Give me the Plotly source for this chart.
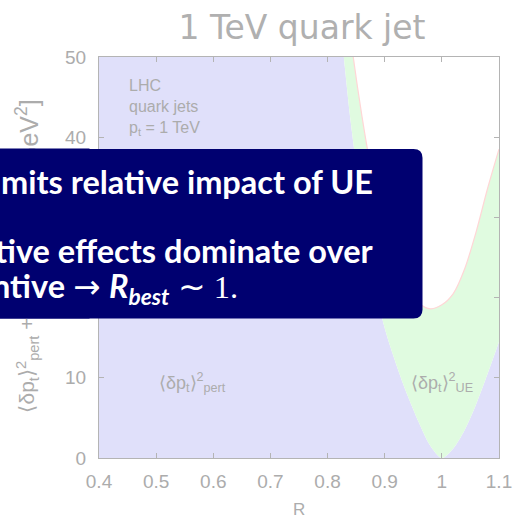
import plotly.graph_objects as go

# Jet radius R and the two contributions to the squared pt shift [GeV^2]
R = [0.40, 0.50, 0.60, 0.70, 0.75, 0.80, 0.82, 0.84, 0.86, 0.88, 0.90,
     0.92, 0.94, 0.96, 0.98, 1.00, 1.02, 1.04, 1.06, 1.08, 1.10]
pert = [1100, 650, 360, 175, 115, 70, 56, 42.2, 31.6, 22.8, 16.2,
        11.7, 7.8, 4.4, 1.5, 0.0, 1.2, 3.5, 6.7, 10.5, 14.5]
total = [1110, 660, 368, 182, 123, 79, 66, 52.7, 42.7, 34.6, 28.6,
         24.3, 21.2, 19.3, 18.6, 19.1, 20.5, 23.6, 28.2, 33.6, 38.5]

x_ticks = [0.4, 0.5, 0.6, 0.7, 0.8, 0.9, 1.0, 1.1]
x_tick_text = ["0.4", "0.5", "0.6", "0.7", "0.8", "0.9", "1", "1.1"]
y_ticks = [0, 10, 20, 30, 40, 50]

GREY = "#acacac"
NAVY = "#000070"
W, H = 517, 519
ML, MR, MT, MB = 99, 18, 57, 61
PW, PH = W - ML - MR, H - MT - MB


def px_x(px):
    return (px - ML) / PW


def px_y(py):
    return (H - MB - py) / PH


fig = go.Figure()
fig.add_trace(go.Scatter(
    x=R, y=pert, mode="lines", line=dict(width=0, shape="spline", smoothing=0.8),
    fill="tozeroy", fillcolor="#e0e0fa", hoverinfo="skip", showlegend=False))
fig.add_trace(go.Scatter(
    x=R, y=total, mode="lines",
    line=dict(width=1.2, color="#ffd6d6", shape="spline", smoothing=0.8),
    fill="tonexty", fillcolor="#e0fbe0", hoverinfo="skip", showlegend=False))

axis_common = dict(
    showline=True, linecolor="#b4b4b4", linewidth=1, mirror="ticks",
    ticks="inside", ticklen=5, tickcolor="#b4b4b4", showgrid=False,
    zeroline=False, tickfont=dict(family="Liberation Sans", size=19, color=GREY),
)
fig.update_xaxes(range=[0.4, 1.1], tickvals=x_ticks, ticktext=x_tick_text,
                 ticklabelstandoff=6, **axis_common)
fig.update_yaxes(range=[0, 50], tickvals=y_ticks, ticklabelstandoff=8,
                 **axis_common)

# rounded text panel
x0, x1 = px_x(-12), px_x(422.5)
yt, yb = px_y(149), px_y(318.5)
rx, ry = 9 / PW, 9 / PH
path = (f"M {x0},{yt} L {x1 - rx},{yt} Q {x1},{yt} {x1},{yt - ry} "
        f"L {x1},{yb + ry} Q {x1},{yb} {x1 - rx},{yb} L {x0},{yb} Z")
fig.add_shape(type="path", path=path, xref="paper", yref="paper",
              fillcolor=NAVY, line=dict(width=0), layer="above")

annotations = [
    # y axis title: quantity (lower end) and units (upper end)
    dict(text="⟨δp<sub>t</sub>⟩<sup>2</sup><sub>pert</sub> + "
              "⟨δp<sub>t</sub>⟩<sup>2</sup><sub>UE</sub>",
         x=px_x(27), y=px_y(415), xref="paper", yref="paper", textangle=-90,
         xanchor="center", yanchor="bottom", showarrow=False,
         font=dict(family="Liberation Sans", size=21, color=GREY)),
    dict(text="[GeV<sup>2</sup>]",
         x=px_x(27), y=px_y(97), xref="paper", yref="paper", textangle=-90,
         xanchor="center", yanchor="top", showarrow=False,
         font=dict(family="Liberation Sans", size=25, color=GREY)),
    # x axis title
    dict(text="R", x=0.5, y=px_y(510), xref="paper", yref="paper",
         xanchor="center", yanchor="middle", showarrow=False,
         font=dict(family="Liberation Sans", size=17, color=GREY)),
    # panel over the y title
    dict(text=" ", x=px_x(-12), y=px_y(233.5), xref="paper", yref="paper",
         xanchor="left", yanchor="middle", width=100, height=169, borderpad=0,
         bgcolor=NAVY, showarrow=False),
    dict(text="LHC<br>quark jets<br>p<sub>t</sub> = 1 TeV", x=px_x(127),
         y=px_y(75), xref="paper", yref="paper", xanchor="left", yanchor="top",
         align="left", showarrow=False,
         font=dict(family="Liberation Sans", size=16, color=GREY)),
    dict(text="⟨δp<sub>t</sub>⟩<sup>2</sup><sub>pert</sub>", x=0.501, y=9.4,
         xanchor="left", yanchor="middle", showarrow=False,
         font=dict(family="Liberation Sans", size=18, color=GREY)),
    dict(text="⟨δp<sub>t</sub>⟩<sup>2</sup><sub>UE</sub>", x=0.943, y=9.4,
         xanchor="left", yanchor="middle", showarrow=False,
         font=dict(family="Liberation Sans", size=18, color=GREY)),
]

box_font = dict(family="Lato", size=32.5, color="white")
box_lines = [
    ("<b>mits relative impact of UE</b>", 375, 181),
    ("<b>tive effects dominate over</b>", 375, 251),
    ("<b>ntive</b> <span style='font-family:DejaVu Sans'>→</span> "
     "<b><i>R<sub>best</sub></i></b> "
     "<span style='font-family:Liberation Serif'>∼ 1.</span>", 240, 288),
]
for txt, right, cy in box_lines:
    annotations.append(dict(text=txt, x=px_x(right), y=px_y(cy), xref="paper",
                            yref="paper", xanchor="right", yanchor="middle",
                            showarrow=False, font=box_font))

fig.update_layout(
    width=W, height=H, margin=dict(l=ML, r=MR, t=MT, b=MB, autoexpand=False),
    paper_bgcolor="white", plot_bgcolor="white",
    title=dict(text="1 TeV quark jet", x=px_x(302), xref="paper", xanchor="center",
               y=1 - 27 / H, yref="container", yanchor="middle",
               font=dict(family="DejaVu Sans", size=33, color="#b0b0b0")),
    annotations=annotations,
)

fig.write_html("out.html")
